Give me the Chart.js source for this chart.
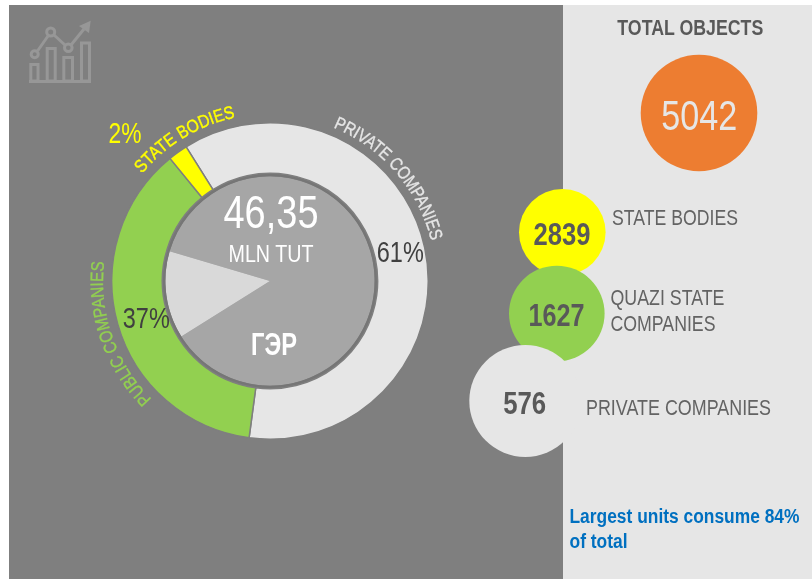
<!DOCTYPE html>
<html>
<head>
<meta charset="utf-8">
<title>Objects and energy use</title>
<script src="https://cdn.jsdelivr.net/npm/chart.js@4"></script>
<style>
    html, body { margin: 0; padding: 0; background: #fff; overflow: hidden; }
    #page { position: relative; width: 812px; height: 579px; overflow: hidden; }
    .panel { position: absolute; top: 5px; bottom: 0; }
    #darkPanel { left: 9px; width: 554px; background: #7f7f7f; }
    #lightPanel { left: 563px; right: 0; background: #e6e6e6; }
    canvas { position: absolute; }
    #ringCanvas { left: 111px; top: 122px; }
    #bubbleCanvas { left: 0; top: 0; }
    #overlay { position: absolute; left: 0; top: 0; font-family: "Liberation Sans", sans-serif; }
</style>
</head>
<body>
<div id="page">
    <div id="darkPanel" class="panel"></div>
    <div id="lightPanel" class="panel"></div>
    <canvas id="bubbleCanvas" width="812" height="579"></canvas>
    <canvas id="ringCanvas" width="318" height="318"></canvas>
    <svg id="overlay" width="812" height="579" xmlns="http://www.w3.org/2000/svg">
        <defs id="arcDefs"></defs>
        <!-- chart icon, top left -->
        <g fill="none" stroke="#979797" stroke-width="3">
            <rect x="30.8" y="64.5" width="7.2" height="16.5"/>
            <rect x="47.2" y="48.5" width="8" height="32.5"/>
            <rect x="63.8" y="57.5" width="8.7" height="23.5"/>
            <rect x="81.5" y="43" width="8" height="38"/>
            <path d="M29 81.5 L91 81.5"/>
            <path d="M37.5 51 L48 36 M54 35 L65 45 M71 45 L84 29"/>
            <circle cx="34.7" cy="54.3" r="3.5"/>
            <circle cx="50.7" cy="32" r="4"/>
            <circle cx="68.3" cy="47.7" r="3.8"/>
        </g>
        <path d="M90.7 20.7 L89 33 L79 26 Z" fill="#979797"/>
    </svg>
</div>

<script>
// outer ring
const categories = ['PRIVATE COMPANIES', 'PUBLIC COMPANIES', 'STATE BODIES'];
const sharePercent = [61, 37, 2];
const ringColors = ['#e6e6e6', '#92d050', '#ffff00'];

// inner pie
const innerSlices = [86.5, 13.5];
const innerColors = ['#a6a6a6', '#d9d9d9'];

// bubbles
const bubbleNames = ['TOTAL OBJECTS', 'STATE BODIES', 'QUAZI STATE COMPANIES', 'PRIVATE COMPANIES'];
const bubbleValues = [5042, 2839, 1627, 576];
const bubbleColors = ['#ed7d31', '#ffff00', '#92d050', '#e6e6e6'];
const bubbleX = [699, 562.3, 556.8, 525.3];
const bubbleY = [113, 232.3, 313.5, 401];
const bubbleR = [58.3, 43.3, 47.8, 56];

const centerValue = '46,35';
const centerUnit = 'MLN TUT';
const centerName = 'ГЭР';
const noteLines = ['Largest units consume 84%', 'of total'];

new Chart(document.getElementById('ringCanvas'), {
    type: 'doughnut',
    data: {
        labels: categories,
        datasets: [
            { data: sharePercent, backgroundColor: ringColors, borderColor: '#7f7f7f', borderWidth: 1.5, weight: 50.5, rotation: -32 },
            { data: [1], backgroundColor: ['#767676'], borderWidth: 0, weight: 3 },
            { data: innerSlices, backgroundColor: innerColors, borderWidth: 0, weight: 104.5, rotation: 286.5 }
        ]
    },
    options: {
        responsive: false,
        animation: false,
        cutout: 0,
        plugins: { legend: { display: false }, tooltip: { enabled: false } }
    }
});

new Chart(document.getElementById('bubbleCanvas'), {
    type: 'bubble',
    data: {
        labels: bubbleNames,
        datasets: [{
            data: bubbleValues.map((v, i) => ({ x: bubbleX[i], y: bubbleY[i], r: bubbleR[i], v: v })),
            backgroundColor: bubbleColors,
            borderWidth: 0,
            hoverRadius: 0,
            clip: false
        }]
    },
    options: {
        responsive: false,
        animation: false,
        layout: { padding: 0, autoPadding: false },
        scales: {
            x: { display: false, min: 0, max: 812 },
            y: { display: false, min: 0, max: 579, reverse: true }
        },
        plugins: { legend: { display: false }, tooltip: { enabled: false } }
    }
});

// text layer, no narrow font installed so widths are forced with textLength
const SVG_NS = 'http://www.w3.org/2000/svg';
const overlay = document.getElementById('overlay');

function addText(str, x, y, size, color, width, opts = {}) {
    const t = document.createElementNS(SVG_NS, 'text');
    t.setAttribute('x', x);
    t.setAttribute('y', y);
    t.setAttribute('font-size', size);
    t.setAttribute('fill', color);
    t.setAttribute('text-anchor', opts.anchor || 'start');
    t.setAttribute('textLength', width);
    t.setAttribute('lengthAdjust', 'spacingAndGlyphs');
    if (opts.bold) t.setAttribute('font-weight', 'bold');
    t.textContent = str;
    overlay.appendChild(t);
}

function addArcText(str, id, startDeg, endDeg, radius, size, color) {
    const cx = 270, cy = 281;
    const pt = a => {
        const rad = (a - 90) * Math.PI / 180;
        return (cx + radius * Math.cos(rad)).toFixed(1) + ' ' + (cy + radius * Math.sin(rad)).toFixed(1);
    };
    const path = document.createElementNS(SVG_NS, 'path');
    path.setAttribute('id', id);
    path.setAttribute('d', `M${pt(startDeg)} A${radius} ${radius} 0 0 1 ${pt(endDeg)}`);
    document.getElementById('arcDefs').appendChild(path);

    const t = document.createElementNS(SVG_NS, 'text');
    t.setAttribute('font-size', size);
    t.setAttribute('fill', color);
    t.setAttribute('stroke', color);
    t.setAttribute('stroke-width', 0.35);
    const tp = document.createElementNS(SVG_NS, 'textPath');
    tp.setAttribute('href', '#' + id);
    tp.setAttribute('textLength', (radius * (endDeg - startDeg) * Math.PI / 180).toFixed(1));
    tp.setAttribute('lengthAdjust', 'spacingAndGlyphs');
    tp.textContent = str;
    t.appendChild(tp);
    overlay.appendChild(t);
}

const DARK_TEXT = '#595959';
const LABEL_TEXT = '#636363';
const MID = { anchor: 'middle' };
const MID_BOLD = { anchor: 'middle', bold: true };

addArcText(categories[0], 'arcPrivate', 22.4, 76, 166, 18, '#e6e6e6');
addArcText(categories[1], 'arcPublic', 225, 276.6, 167, 18, '#92d050');
addArcText(categories[2], 'arcState', 310, 348, 167, 18, '#ffff00');

addText(sharePercent[0] + '%', 400.3, 261.7, 29, '#404040', 47, MID);
addText(sharePercent[1] + '%', 146.3, 328, 29, '#404040', 47, MID);
addText(sharePercent[2] + '%', 125, 142.7, 29, '#ffff00', 33, MID);

addText(centerValue, 271, 228, 46, '#fff', 95, MID);
addText(centerUnit, 271, 262, 23, '#fff', 85, MID);
addText(centerName, 274, 355, 31, '#fff', 46, MID_BOLD);

addText(bubbleNames[0], 690.3, 35, 22, DARK_TEXT, 146, MID_BOLD);
addText(bubbleValues[0], 699.3, 130, 42, '#e6e6e6', 76, MID);
addText(bubbleValues[1], 562, 245, 31, DARK_TEXT, 57, MID_BOLD);
addText(bubbleValues[2], 556.5, 325.7, 31, DARK_TEXT, 56, MID_BOLD);
addText(bubbleValues[3], 524.7, 414.3, 31, DARK_TEXT, 43, MID_BOLD);

addText(bubbleNames[1], 612, 225, 22, LABEL_TEXT, 126);
addText('QUAZI STATE', 610.5, 305, 22, LABEL_TEXT, 114);
addText('COMPANIES', 610.5, 330.7, 22, LABEL_TEXT, 105);
addText(bubbleNames[3], 586, 415, 22, LABEL_TEXT, 185);

addText(noteLines[0], 569.5, 523, 20, '#0070c0', 230, { bold: true });
addText(noteLines[1], 569.5, 548, 20, '#0070c0', 58, { bold: true });
</script>
</body>
</html>
